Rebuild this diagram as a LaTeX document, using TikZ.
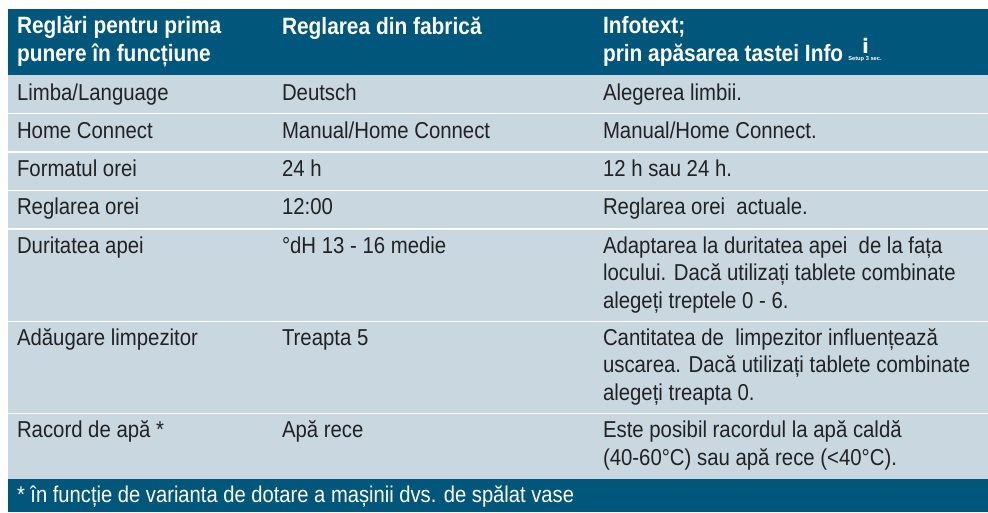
\documentclass[tikz,border=0pt]{standalone}
\usepackage{fontspec}
\setmainfont[FakeStretch=0.885]{Liberation Sans}
\newfontfamily\iconfont{Liberation Sans}
\newfontfamily\heavyfont{DejaVu Sans}
\definecolor{headblue}{HTML}{00567B}
\definecolor{rowblue}{HTML}{C9D7E1}
\definecolor{inktext}{HTML}{222222}
\tikzset{x=1pt,y=-1pt,
  cell/.style={anchor=base west,inner sep=0pt,outer sep=0pt,text=inktext,font=\fontsize{23}{27.6}\selectfont,align=left},
  headcell/.style={cell,text=white,font=\fontsize{23.6}{27.6}\selectfont\bfseries},
  bandhead/.style={fill=headblue,draw=none},
  bandrow/.style={fill=rowblue,draw=none}}
\begin{document}
\begin{tikzpicture}
\useasboundingbox (0,0) rectangle (988,512);
\fill[white] (0,0) rectangle (988,512);
\path[bandhead] (8,9) rectangle (988,75);
\path[bandrow] (8,75) rectangle (988,112.5);
\path[bandrow] (8,114) rectangle (988,151);
\path[bandrow] (8,152.5) rectangle (988,189.5);
\path[bandrow] (8,191) rectangle (988,228);
\path[bandrow] (8,229.5) rectangle (988,320.5);
\path[bandrow] (8,322) rectangle (988,412.5);
\path[bandrow] (8,414) rectangle (988,479);
\path[bandhead] (8,479) rectangle (988,512);
\node[headcell] (h1) at (17,61) {Reglări pentru prima\\punere în funcțiune};
\node[headcell] (h2) at (282,34) {Reglarea din fabrică};
\node[headcell] (h3) at (603,61) {Infotext;\\prin apăsarea tastei Info};
\node[anchor=base,inner sep=0pt,text=white,font=\fontsize{20}{20}\selectfont\heavyfont\bfseries] (ii) at (865.5,53) {i};
\node[anchor=base,inner sep=0pt,text=white,font=\fontsize{5.7}{6}\selectfont\iconfont\bfseries] (setup) at (865,60) {Setup 3 sec.};
\node[cell] (a1) at (17,100) {Limba/Language};
\node[cell] (a2) at (282,100) {Deutsch};
\node[cell] (a3) at (603,100) {Alegerea limbii.};
\node[cell] (b1) at (17,138) {Home Connect};
\node[cell] (b2) at (282,138) {Manual/Home Connect};
\node[cell] (b3) at (603,138) {Manual/Home Connect.};
\node[cell] (c1) at (17,176) {Formatul orei};
\node[cell] (c2) at (282,176) {24 h};
\node[cell] (c3) at (603,176) {12 h sau 24 h.};
\node[cell] (d1) at (17,214) {Reglarea orei};
\node[cell] (d2) at (282,214) {12:00};
\node[cell] (d3) at (603,214) {Reglarea orei~ actuale.};
\node[cell] (e1) at (17,253) {Duritatea apei};
\node[cell] (e2) at (282,253) {°dH 13 - 16 medie};
\node[cell] (e3) at (603,308.2) {Adaptarea la duritatea apei~ de la fața\\locului. Dacă utilizați tablete combinate\\alegeți treptele 0 - 6.};
\node[cell] (f1) at (17,345) {Adăugare limpezitor};
\node[cell] (f2) at (282,345) {Treapta 5};
\node[cell] (f3) at (603,400.2) {Cantitatea de~ limpezitor influențează\\uscarea. Dacă utilizați tablete combinate\\alegeți treapta 0.};
\node[cell] (g1) at (17,437) {Racord de apă *};
\node[cell] (g2) at (282,437) {Apă rece};
\node[cell] (g3) at (603,465) {Este posibil racordul la apă caldă\\(40-60°C) sau apă rece (<40°C).};
\node[cell,text=white,font=\fontsize{22.8}{27.6}\selectfont] (foot) at (17,502.5) {* în funcție de varianta de dotare a mașinii dvs. de spălat vase};
\end{tikzpicture}
\end{document}
